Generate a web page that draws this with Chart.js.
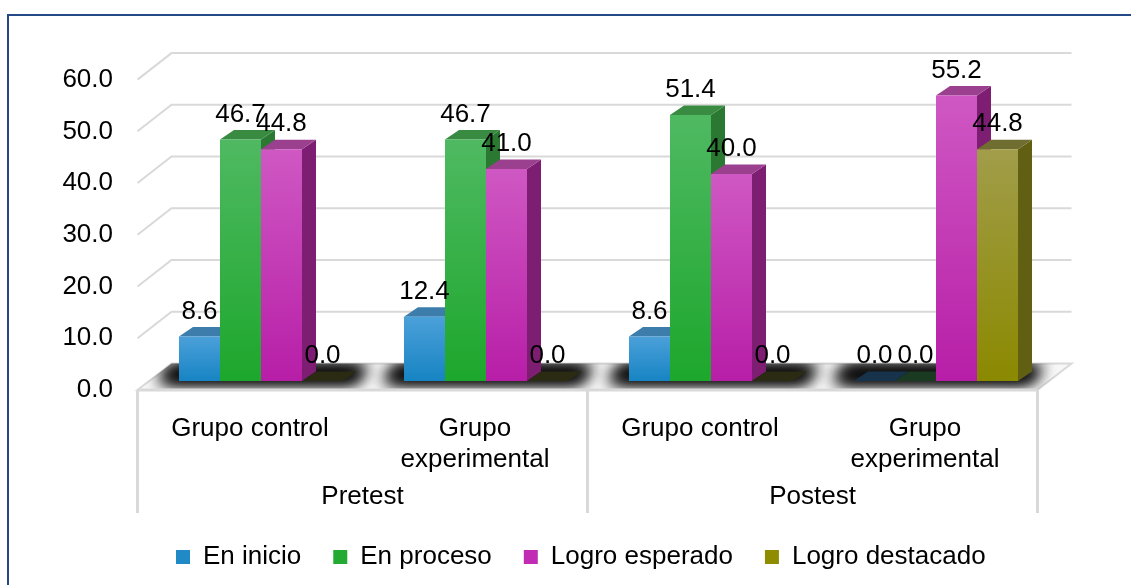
<!DOCTYPE html>
<html>
<head>
<meta charset="utf-8">
<script src="https://cdn.jsdelivr.net/npm/chart.js"></script>
<style>
  body { margin: 0; background: #fff; }
  #wrap { width: 1131px; height: 585px; position: relative; }
</style>
</head>
<body>
<div id="wrap"><canvas id="chart" width="1131" height="585"></canvas></div>
<script>
// Data
const groupLabels = ['Pretest', 'Postest'];
const categories = ['Grupo control', ['Grupo', 'experimental'], 'Grupo control', ['Grupo', 'experimental']];
const seriesNames = ['En inicio', 'En proceso', 'Logro esperado', 'Logro destacado'];
const enInicio = [8.6, 12.4, 8.6, 0.0];
const enProceso = [46.7, 46.7, 51.4, 0.0];
const logroEsperado = [44.8, 41.0, 40.0, 55.2];
const logroDestacado = [0.0, 0.0, 0.0, 44.8];
const yTicks = [0, 10, 20, 30, 40, 50, 60];

// Colours per series: legend, gradient light/dark, top face, side face, flat (zero) face
const palette = [
    { base: '#1f8ac6', light: '#4ba0d9', dark: '#1784c3', top: '#3d7dac', side: '#236c9c', flat: '#17334b' },
    { base: '#22aa33', light: '#4fb962', dark: '#1da72c', top: '#3a8b42', side: '#2b7832', flat: '#1a3a21' },
    { base: '#c02cb4', light: '#cf58c3', dark: '#b71ea7', top: '#9b3f8f', side: '#7e1e73', flat: '#3a1436' },
    { base: '#8f8c00', light: '#a19d4a', dark: '#8b8900', top: '#6f6d2f', side: '#615f12', flat: '#2b2a12' }
];

const FONT = '"Liberation Sans", Arial, sans-serif';
const DEPTH = { dx: 14, dy: -9.5 };      // bar depth
const BACK = { dx: 23, dy: -17.5 };      // bar plane -> back wall
const FRONT = { dx: -11, dy: 9 };        // bar plane -> front edge
const GRID = '#d9d9d9';
const LEGEND_START = 176;
const OFF = 3000;                        // draw shadow casters off-canvas

function poly(ctx, pts) {
    ctx.beginPath();
    ctx.moveTo(pts[0][0], pts[0][1]);
    for (let i = 1; i < pts.length; i++) ctx.lineTo(pts[i][0], pts[i][1]);
    ctx.closePath();
}

function barGradient(context, i) {
    const chart = context.chart;
    const p = palette[i];
    if (!chart.chartArea || context.type !== 'data') return p.base;
    const y = chart.scales.y;
    const top = y.getPixelForValue(context.parsed.y);
    const bot = y.getPixelForValue(0);
    if (bot - top < 1) return p.base;
    const g = chart.ctx.createLinearGradient(0, top, 0, bot);
    g.addColorStop(0, p.light);
    g.addColorStop(1, p.dark);
    return g;
}

// 3D walls, floor, shadows, bar sides/tops
const threeD = {
    id: 'threeD',
    afterLayout(chart) {
        // move the legend row so it starts where the original does
        const lg = chart.legend;
        if (!lg || !lg.lineWidths) return;
        const pad = lg.options.labels.padding;
        const start = (lg.left + pad + lg.right - lg.lineWidths[0]) / 2;
        const d = LEGEND_START - start;
        lg.left += d;
        lg.right += d;
    },
    beforeDatasetsDraw(chart) {
        const ctx = chart.ctx;
        const y = chart.scales.y;
        const a = chart.chartArea;
        const y0 = y.getPixelForValue(0);
        ctx.save();

        // back wall gridlines + left wall diagonals
        ctx.strokeStyle = GRID;
        ctx.lineWidth = 2;
        yTicks.forEach(v => {
            if (v === 0) return;
            const yp = y.getPixelForValue(v);
            ctx.beginPath();
            ctx.moveTo(a.left + FRONT.dx, yp + FRONT.dy);
            ctx.lineTo(a.left + BACK.dx, yp + BACK.dy);
            ctx.lineTo(a.right + BACK.dx, yp + BACK.dy);
            ctx.stroke();
        });

        // floor
        const floor = [
            [a.left + FRONT.dx, y0 + FRONT.dy],
            [a.left + BACK.dx, y0 + BACK.dy],
            [a.right + BACK.dx, y0 + BACK.dy],
            [a.right + FRONT.dx, y0 + FRONT.dy]
        ];
        poly(ctx, floor);
        ctx.fillStyle = '#f7f7f7';
        ctx.fill();
        ctx.strokeStyle = GRID;
        ctx.lineWidth = 2;
        ctx.stroke();

        // soft shadows under each group (only the blur is visible)
        ctx.save();
        poly(ctx, floor);
        ctx.clip();
        const metas = chart.data.datasets.map((d, i) => chart.getDatasetMeta(i));
        categories.forEach((c, ci) => {
            const first = metas[0].data[ci];
            const last = metas[metas.length - 1].data[ci];
            const xl = first.x - first.width / 2 - 14;
            const xr = last.x + last.width / 2 + 16;
            const pts = [[xl, y0], [xl + DEPTH.dx, y0 + DEPTH.dy - 4], [xr + DEPTH.dx, y0 + DEPTH.dy - 4], [xr, y0]]
                .map(p => [p[0] - OFF, p[1]]);
            ctx.shadowColor = 'rgba(0,0,0,0.95)';
            ctx.shadowBlur = 16;
            ctx.shadowOffsetX = OFF - 6;
            ctx.shadowOffsetY = 0;
            for (let k = 0; k < 3; k++) {
                poly(ctx, pts);
                ctx.fillStyle = '#000';
                ctx.fill();
            }
        });
        ctx.restore();

        // sides and tops
        categories.forEach((c, ci) => {
            metas.forEach((meta, si) => {
                const el = meta.data[ci];
                const p = palette[si];
                const l = el.x - el.width / 2, r = el.x + el.width / 2;
                const t = el.y, b = el.base;
                const flat = b - t < 1;
                if (!flat) {
                    poly(ctx, [[r, t], [r + DEPTH.dx, t + DEPTH.dy], [r + DEPTH.dx, b + DEPTH.dy], [r, b]]);
                    ctx.fillStyle = p.side;
                    ctx.fill();
                }
                poly(ctx, [[l, t], [l + DEPTH.dx, t + DEPTH.dy], [r + DEPTH.dx, t + DEPTH.dy], [r, t]]);
                ctx.fillStyle = flat ? p.flat : p.top;
                ctx.fill();
            });
        });
        ctx.restore();
    },
    afterDatasetsDraw(chart) {
        const ctx = chart.ctx;
        ctx.save();
        ctx.font = '26px ' + FONT;
        ctx.fillStyle = '#000';
        ctx.textAlign = 'center';
        ctx.textBaseline = 'middle';
        chart.data.datasets.forEach((d, si) => {
            chart.getDatasetMeta(si).data.forEach((el, ci) => {
                ctx.fillText(d.data[ci].toFixed(1), el.x, el.y - 25);
            });
        });
        ctx.restore();
    },
    afterDraw(chart) {
        const ctx = chart.ctx;
        const a = chart.chartArea;
        const y0 = chart.scales.y.getPixelForValue(0);
        const x = chart.scales.x;
        ctx.save();
        // category box lines
        const yTop = y0 + FRONT.dy;
        const yBot = 513;
        const left = a.left + FRONT.dx, right = a.right + FRONT.dx;
        const mid = (left + right) / 2;
        ctx.strokeStyle = GRID;
        ctx.lineWidth = 3;
        ctx.beginPath();
        ctx.moveTo(left, yTop); ctx.lineTo(right, yTop);
        [left, mid, right].forEach(xx => { ctx.moveTo(xx, yTop); ctx.lineTo(xx, yBot); });
        ctx.stroke();
        // outer group labels
        ctx.font = '26px ' + FONT;
        ctx.fillStyle = '#000';
        ctx.textAlign = 'center';
        ctx.textBaseline = 'middle';
        groupLabels.forEach((g, gi) => {
            const cx = (x.getPixelForValue(gi * 2) + x.getPixelForValue(gi * 2 + 1)) / 2 + FRONT.dx;
            ctx.fillText(g, cx, 497);
        });
        // outer frame
        ctx.strokeStyle = '#234a86';
        ctx.lineWidth = 2;
        ctx.beginPath();
        ctx.moveTo(1131, 15); ctx.lineTo(8, 15); ctx.lineTo(8, 585);
        ctx.stroke();
        ctx.restore();
    }
};

const seriesData = [enInicio, enProceso, logroEsperado, logroDestacado];

new Chart(document.getElementById('chart'), {
    type: 'bar',
    data: {
        labels: categories,
        datasets: seriesNames.map((name, i) => ({
            label: name,
            data: seriesData[i],
            backgroundColor: c => barGradient(c, i),
            borderWidth: 0,
            barPercentage: 1.0,
            categoryPercentage: 0.729
        }))
    },
    options: {
        responsive: false,
        animation: false,
        devicePixelRatio: 1,
        layout: { padding: { left: 0, right: 82.5, top: 70.6, bottom: 5 } },
        scales: {
            x: {
                grid: { display: false },
                border: { display: false },
                ticks: {
                    font: { family: FONT, size: 26 },
                    color: '#000',
                    padding: 24,
                    labelOffset: FRONT.dx,
                    maxRotation: 0,
                    autoSkip: false
                },
                afterFit: s => { s.height = 131; }
            },
            y: {
                min: 0,
                max: 60,
                grid: { display: false, drawTicks: false },
                border: { display: false },
                ticks: {
                    stepSize: 10,
                    font: { family: FONT, size: 26 },
                    color: '#000',
                    padding: 35.5,
                    labelOffset: 9,
                    callback: v => v.toFixed(1)
                },
                afterFit: s => { s.width = 148.5; }
            }
        },
        plugins: {
            tooltip: { enabled: false },
            legend: {
                position: 'bottom',
                labels: {
                    font: { family: FONT, size: 26 },
                    color: '#000',
                    boxWidth: 14,
                    boxHeight: 14,
                    padding: 32,
                    generateLabels: () => seriesNames.map((n, i) => ({
                        text: n,
                        fillStyle: palette[i].base,
                        strokeStyle: palette[i].base,
                        lineWidth: 0,
                        hidden: false,
                        datasetIndex: i
                    }))
                }
            }
        }
    },
    plugins: [threeD]
});
</script>
</body>
</html>
